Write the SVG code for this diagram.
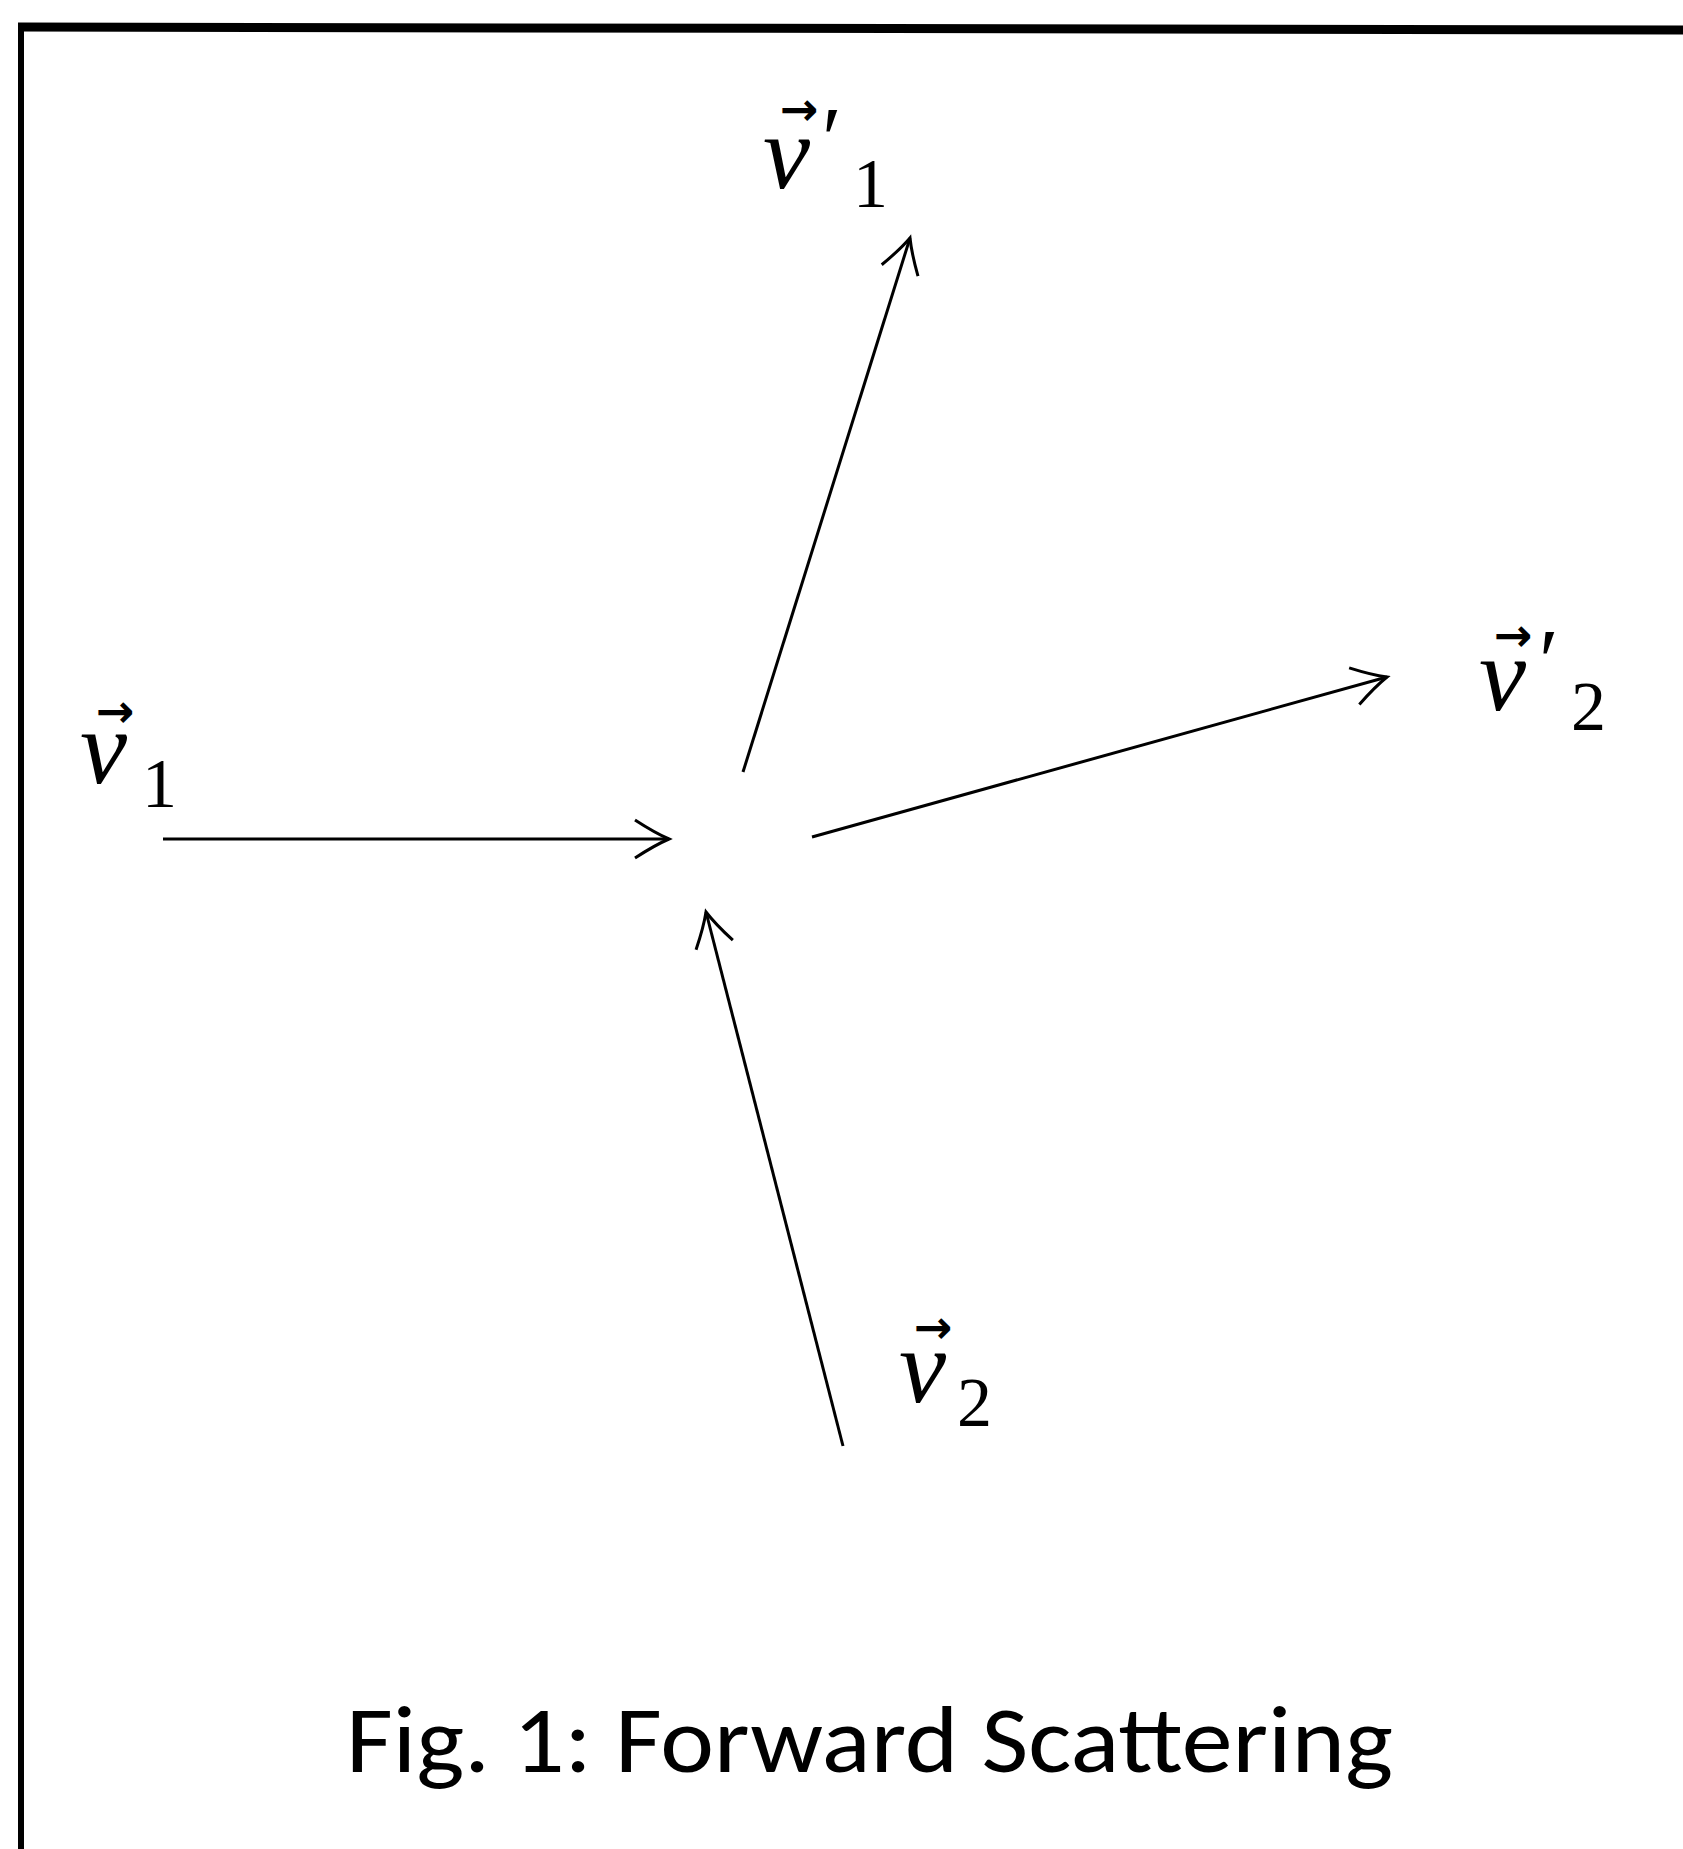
<svg xmlns="http://www.w3.org/2000/svg" width="1683" height="1849" viewBox="0 0 1683 1849">
<style>
.v{font-family:"Liberation Serif","DejaVu Serif",serif;font-style:italic;font-size:106px;fill:#000}
.s{font-family:"Liberation Serif","DejaVu Serif",serif;font-style:normal;font-size:70px}
.p{font-family:"Liberation Serif","DejaVu Serif",serif;font-style:normal;font-size:90px}
.a{font-family:"DejaVu Sans",sans-serif;font-style:normal;font-weight:bold;font-size:46px}
.cap{font-family:Carlito,Lato,"Open Sans",sans-serif;font-size:94px;fill:#000}
.ln{stroke:#000;stroke-width:3;fill:none}
</style>
<defs>
<marker id="ah" markerUnits="userSpaceOnUse" viewBox="-40 -25 45 50" markerWidth="45" markerHeight="50" refX="0" refY="0" orient="auto">
<path d="M-34,-19 Q-14,-6 0,0 Q-14,6 -34,19" fill="none" stroke="#000" stroke-width="3"/>
</marker>
</defs>
<rect width="1683" height="1849" fill="#fff"/>
<g id="frame">
<line x1="21" y1="23" x2="21" y2="1849" stroke="#000" stroke-width="6"/>
<line x1="18" y1="27" x2="1683" y2="30" stroke="#000" stroke-width="9"/>
</g>
<g id="connectors">
<line class="ln" x1="163" y1="839" x2="669" y2="839" marker-end="url(#ah)"/>
<line class="ln" x1="743" y1="772" x2="910" y2="238" marker-end="url(#ah)"/>
<line class="ln" x1="812" y1="837" x2="1387" y2="677" marker-end="url(#ah)"/>
<line class="ln" x1="843" y1="1446" x2="706" y2="912" marker-end="url(#ah)"/>
</g>
<g id="label-v1">
<text class="v"><tspan x="80" y="783">v</tspan><tspan class="a" x="96" y="727">→</tspan><tspan class="s" x="142" y="807">1</tspan></text>
</g>
<g id="label-v1p">
<text class="v"><tspan x="763" y="188">v</tspan><tspan class="a" x="780" y="125">→</tspan><tspan class="p" x="822" y="170">′</tspan><tspan class="s" x="853" y="207">1</tspan></text>
</g>
<g id="label-v2p">
<text class="v"><tspan x="1479" y="710">v</tspan><tspan class="a" x="1494" y="651">→</tspan><tspan class="p" x="1539" y="692">′</tspan><tspan class="s" x="1571" y="730">2</tspan></text>
</g>
<g id="label-v2">
<text class="v"><tspan x="899" y="1402">v</tspan><tspan class="a" x="914" y="1343">→</tspan><tspan class="s" x="957" y="1426">2</tspan></text>
</g>
<g id="caption">
<text class="cap" x="346" y="1772" textLength="1047" lengthAdjust="spacingAndGlyphs">Fig. 1: Forward Scattering</text>
</g>
</svg>
